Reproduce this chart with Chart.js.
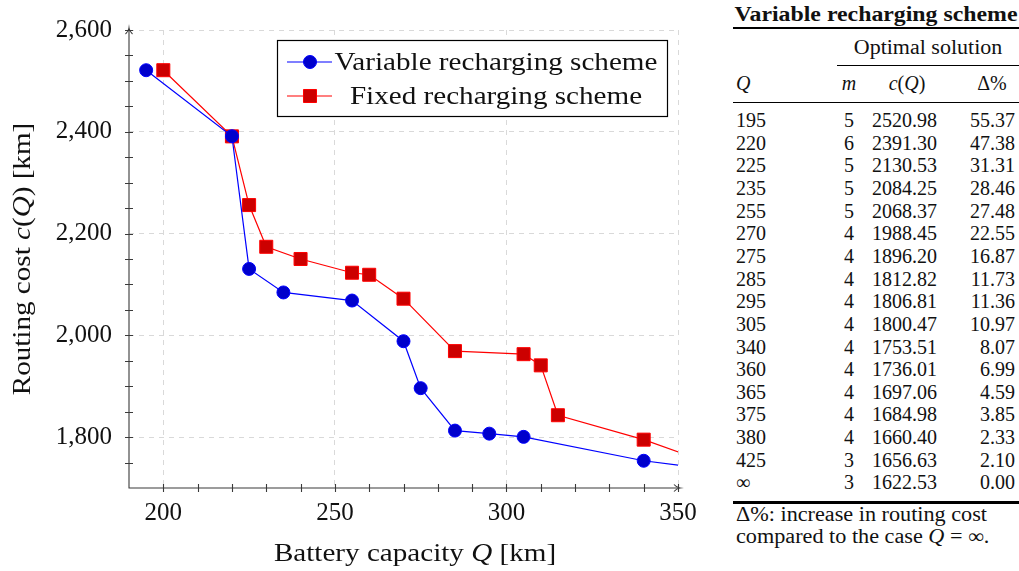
<!DOCTYPE html>
<html lang="en">
<head>
<meta charset="UTF-8">
<title>Routing cost vs. battery capacity</title>
<script src="https://cdn.jsdelivr.net/npm/chart.js@4.4.0/dist/chart.umd.min.js"></script>
<style>
  body { margin: 0; background: #fff; color: #111; font-family: "Liberation Serif", serif; }
  .wrap { position: relative; width: 1019px; height: 571px; overflow: hidden; }
  .plot { position: absolute; left: 0; top: 0; }
  .tbl { position: absolute; left: 733px; top: 0; width: 286px; height: 571px; font-size: 20px; }
  .tbl div { position: absolute; white-space: nowrap; }
  .ttl { left: 0; width: 286px; top: 0; line-height: 28px; text-align: center; font-weight: bold; transform: scaleX(1.19); }
  .rule { left: 0; width: 286px; background: #000; }
  .cell { line-height: 22px; height: 22px; }
  .foot { left: 3px; font-size: 20px; line-height: 21.7px; top: 504px; transform: scaleX(1.11); transform-origin: 0 0; }
  i { font-style: italic; }
</style>
</head>
<body>
<div class="wrap">
  <canvas class="plot" id="costChart" width="700" height="571"></canvas>
  <div class="tbl" id="tbl"></div>
</div>
<script>
// Variable recharging scheme (table values)
const varQ = [195, 220, 225, 235, 255, 270, 275, 285, 295, 305, 340, 360, 365, 375, 380, 425];
const varM = [5, 6, 5, 5, 5, 4, 4, 4, 4, 4, 4, 4, 4, 4, 4, 3];
const varCost = [2520.98, 2391.30, 2130.53, 2084.25, 2068.37, 1988.45, 1896.20, 1812.82, 1806.81, 1800.47, 1753.51, 1736.01, 1697.06, 1684.98, 1660.40, 1656.63];
const varDelta = [55.37, 47.38, 31.31, 28.46, 27.48, 22.55, 16.87, 11.73, 11.36, 10.97, 8.07, 6.99, 4.59, 3.85, 2.33, 2.10];
const infM = 3, infCost = 1622.53, infDelta = 0;

// Fixed recharging scheme
const fixedQ = [200, 220, 225, 230, 240, 255, 260, 270, 285, 305, 310, 315, 340, 360];
const fixedCost = [2521, 2391, 2256, 2174, 2150, 2123, 2119, 2072, 1969, 1963, 1941, 1843, 1795, 1747];

const xTicks = [200, 250, 300, 350];
const yTicks = [1800, 2000, 2200, 2400, 2600];

const FONT = '"Liberation Serif", serif';
const STRETCH = 1.12; // widen the serif text a bit

// ---- table ----
const tbl = document.getElementById('tbl');
function add(cls, style, html) {
  const d = document.createElement('div');
  d.className = cls;
  Object.assign(d.style, style);
  d.innerHTML = html;
  tbl.appendChild(d);
}
add('ttl', {}, 'Variable recharging scheme');
add('rule', { top: '26.5px', height: '2.5px' }, '');
add('', { left: '104px', width: '182px', top: '35px', lineHeight: '24px', textAlign: 'center', transform: 'scaleX(1.1)' }, 'Optimal solution');
add('rule', { left: '104px', width: '182px', top: '65px', height: '1px' }, '');
add('', { left: '3px', top: '71px', lineHeight: '24px' }, '<i>Q</i>');
add('', { left: '106px', width: '20px', top: '71px', lineHeight: '24px', textAlign: 'center' }, '<i>m</i>');
add('', { left: '139px', width: '70px', top: '71px', lineHeight: '24px', textAlign: 'center' }, '<i>c</i>(<i>Q</i>)');
add('', { left: '232px', width: '54px', top: '71px', lineHeight: '24px', textAlign: 'center' }, 'Δ%');
add('rule', { top: '101.5px', height: '1.5px' }, '');

const rowsQ = varQ.map(String).concat(['∞']);
const rowsM = varM.concat([infM]);
const rowsC = varCost.concat([infCost]);
const rowsD = varDelta.concat([infDelta]);
rowsQ.forEach((q, i) => {
  const top = (109 + i * 22.65) + 'px';
  add('cell', { left: '3px', top }, q);
  add('cell', { right: '165px', top }, String(rowsM[i]));
  add('cell', { left: '139px', top }, rowsC[i].toFixed(2));
  add('cell', { right: '4px', top }, rowsD[i].toFixed(2));
});
add('rule', { top: '501px', height: '2.5px' }, '');
add('foot', {}, 'Δ%: increase in routing cost<br>compared to the case <i>Q</i> = ∞.');

// ---- chart ----
// centered text made of plain / italic pieces
function drawRich(ctx, parts, x, y, size) {
  const fonts = parts.map(p => (p[1] ? 'italic ' : '') + size + 'px ' + FONT);
  let w = 0;
  parts.forEach((p, i) => { ctx.font = fonts[i]; w += ctx.measureText(p[0]).width; });
  ctx.save();
  ctx.translate(x, y);
  ctx.scale(STRETCH, 1);
  let cx = -w / 2;
  parts.forEach((p, i) => {
    ctx.font = fonts[i];
    ctx.fillText(p[0], cx, 0);
    cx += ctx.measureText(p[0]).width;
  });
  ctx.restore();
}

// axis lines with arrow tips, tick marks and axis titles
const axesPlugin = {
  id: 'axesDeco',
  afterDatasetsDraw(chart) {
    const { ctx, chartArea: a, scales: { x, y } } = chart;
    ctx.save();
    ctx.strokeStyle = '#3a3a3a';
    ctx.fillStyle = '#111';
    ctx.lineWidth = 1.1;
    ctx.beginPath();
    ctx.moveTo(a.left, a.bottom); ctx.lineTo(a.left, a.top - 1);
    ctx.moveTo(a.left - 0.5, a.bottom); ctx.lineTo(a.right + 1, a.bottom);
    for (let v = x.min + 10; v <= x.max; v += 10) {
      const px = Math.round(x.getPixelForValue(v)) + 0.5;
      ctx.moveTo(px, a.bottom - 4); ctx.lineTo(px, a.bottom + 4);
    }
    for (let v = y.min + 50; v <= y.max; v += 50) {
      const py = Math.round(y.getPixelForValue(v)) + 0.5;
      ctx.moveTo(a.left - 4, py); ctx.lineTo(a.left + 4, py);
    }
    ctx.stroke();
    // arrow tips
    ctx.beginPath();
    ctx.moveTo(a.left - 3.5, a.top + 4); ctx.quadraticCurveTo(a.left - 0.5, a.top + 1.5, a.left, a.top - 2);
    ctx.quadraticCurveTo(a.left + 0.5, a.top + 1.5, a.left + 3.5, a.top + 4);
    ctx.moveTo(a.right - 4, a.bottom - 3.5); ctx.quadraticCurveTo(a.right - 1.5, a.bottom - 0.5, a.right + 2, a.bottom);
    ctx.quadraticCurveTo(a.right - 1.5, a.bottom + 0.5, a.right - 4, a.bottom + 3.5);
    ctx.stroke();

    ctx.textBaseline = 'middle';
    ctx.textAlign = 'left';
    drawRich(ctx, [['Battery capacity ', false], ['Q', true], [' [km]', false]], 415, 554, 26);
    ctx.translate(23, (a.top + a.bottom) / 2);
    ctx.rotate(-Math.PI / 2);
    drawRich(ctx, [['Routing cost ', false], ['c', true], ['(', false], ['Q', true], [') [km]', false]], 0, 0, 26);
    ctx.restore();
  }
};

// boxed legend in the upper right of the plot
const legendPlugin = {
  id: 'boxLegend',
  afterDraw(chart) {
    const ctx = chart.ctx;
    ctx.save();
    ctx.fillStyle = '#fff';
    ctx.fillRect(277.5, 40.5, 390, 76);
    ctx.strokeStyle = '#000';
    ctx.lineWidth = 1.2;
    ctx.strokeRect(277.5, 40.5, 390, 76);
    chart.data.datasets.forEach((ds, i) => {
      const cy = 62 + i * 34;
      ctx.strokeStyle = ds.borderColor;
      ctx.lineWidth = ds.borderWidth;
      ctx.beginPath(); ctx.moveTo(287, cy); ctx.lineTo(332, cy); ctx.stroke();
      ctx.fillStyle = ds.pointBackgroundColor;
      ctx.strokeStyle = ds.pointBorderColor;
      ctx.lineWidth = ds.pointBorderWidth;
      Chart.helpers.drawPoint(ctx, { pointStyle: ds.pointStyle, radius: ds.pointRadius, rotation: 0, borderWidth: ds.pointBorderWidth }, 310, cy);
      ctx.fillStyle = '#111';
      ctx.textAlign = 'left';
      ctx.textBaseline = 'middle';
      drawRich(ctx, [[ds.label, false]], 496, cy + 1, 26);
    });
    ctx.restore();
  }
};

const tickFont = { family: FONT, size: 25 };

new Chart(document.getElementById('costChart'), {
  type: 'line',
  data: {
    datasets: [
      {
        label: 'Variable recharging scheme',
        data: varQ.map((q, i) => ({ x: q, y: varCost[i] })),
        borderColor: '#0000ff', borderWidth: 1.2,
        pointStyle: 'circle', pointRadius: 6.5, pointBorderWidth: 1,
        pointBackgroundColor: '#0000cc', pointBorderColor: '#0000ff',
        tension: 0, clip: 0
      },
      {
        label: 'Fixed recharging scheme',
        data: fixedQ.map((q, i) => ({ x: q, y: fixedCost[i] })),
        borderColor: '#ff0000', borderWidth: 1.2,
        pointStyle: 'rect', pointRadius: 9.2, pointBorderWidth: 1,
        pointBackgroundColor: '#cc0000', pointBorderColor: '#ff0000',
        tension: 0, clip: 0
      }
    ]
  },
  options: {
    responsive: false,
    animation: false,
    devicePixelRatio: 1,
    layout: { padding: { left: 0, top: 30, right: 22, bottom: 0 } },
    plugins: { legend: { display: false }, tooltip: { enabled: false } },
    scales: {
      x: {
        type: 'linear', min: 190, max: 350,
        afterBuildTicks: s => { s.ticks = xTicks.map(v => ({ value: v })); },
        afterFit: s => { s.height = 83; s.paddingLeft = 0; s.paddingRight = 0; },
        grid: { color: '#d9d9d9', lineWidth: 1, drawTicks: false },
        border: { display: false, dash: [5, 5] },
        ticks: { font: tickFont, color: '#111', padding: 10, maxRotation: 0, callback: v => String(v) }
      },
      y: {
        type: 'linear', min: 1700, max: 2600,
        afterBuildTicks: s => { s.ticks = yTicks.map(v => ({ value: v })); },
        afterFit: s => { s.width = 129; s.paddingTop = 0; s.paddingBottom = 0; },
        grid: { color: '#d9d9d9', lineWidth: 1, drawTicks: false },
        border: { display: false, dash: [5, 5] },
        ticks: { font: tickFont, color: '#111', padding: 17, callback: v => v.toLocaleString('en-US') }
      }
    }
  },
  plugins: [axesPlugin, legendPlugin]
});
</script>
</body>
</html>
